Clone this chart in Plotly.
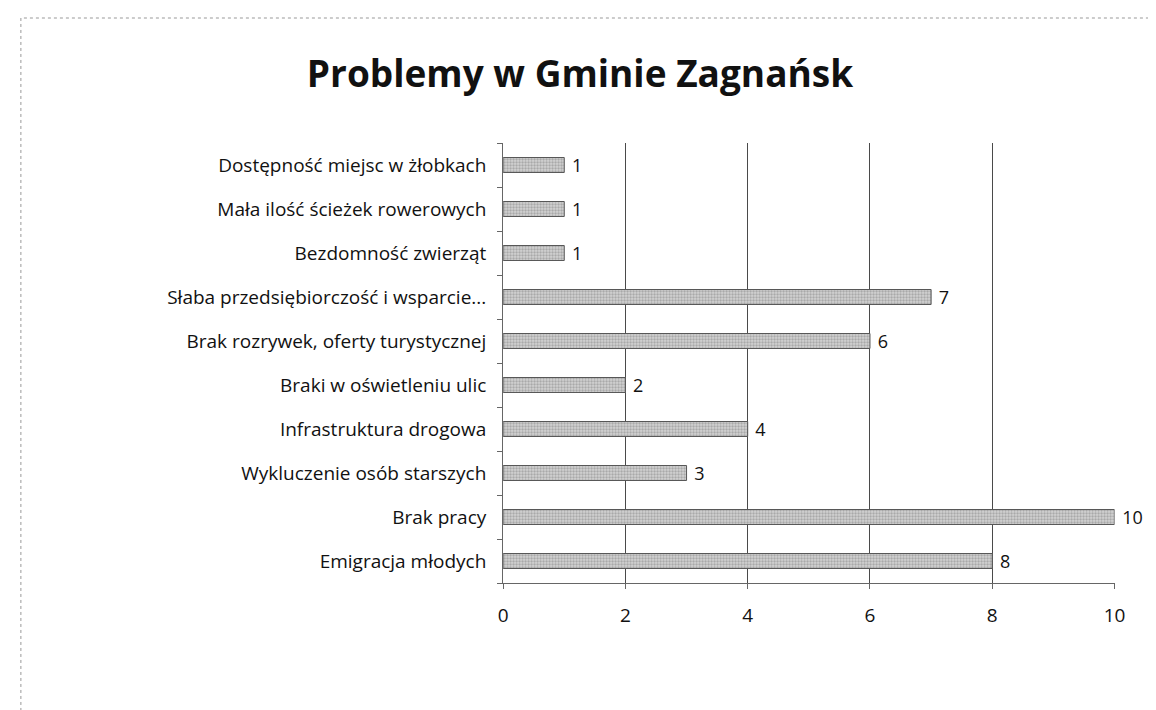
import plotly.graph_objects as go

categories = [
    "Emigracja młodych",
    "Brak pracy",
    "Wykluczenie osób starszych",
    "Infrastruktura drogowa",
    "Braki w oświetleniu ulic",
    "Brak rozrywek, oferty turystycznej",
    "Słaba przedsiębiorczość i wsparcie...",
    "Bezdomność zwierząt",
    "Mała ilość ścieżek rowerowych",
    "Dostępność miejsc w żłobkach",
]
values = [8, 10, 3, 4, 2, 6, 7, 1, 1, 1]
x_ticks = [0, 2, 4, 6, 8, 10]
title_text = "Problemy w Gminie Zagnańsk"

W, H = 1156, 710
font_family = "'Open Sans', Lato, sans-serif"

fig = go.Figure()
fig.add_trace(go.Bar(
    x=values,
    y=categories,
    orientation="h",
    width=0.34,
    marker=dict(
        color="#c8c8c8",
        line=dict(color="#555", width=1),
        pattern=dict(shape=".", fgcolor="#777", bgcolor="#d4d4d4", size=3, solidity=0.45),
    ),
    text=["\u00a0" + str(v) for v in values],
    textposition="outside",
    constraintext="none",
    textfont=dict(size=18, color="#111", family=font_family),
    outsidetextfont=dict(size=18, color="#111", family=font_family),
    cliponaxis=False,
    showlegend=False,
))

fig.update_layout(
    width=W, height=H,
    paper_bgcolor="white",
    plot_bgcolor="white",
    margin=dict(l=0, r=0, t=0, b=0),
    title=dict(
        text="<b>" + title_text + "</b>",
        x=572 / W, xanchor="center",
        y=1 - 66 / H, yanchor="middle",
        font=dict(size=37, color="#111", family=font_family),
    ),
    xaxis=dict(
        domain=[497 / W, 1117 / W],
        range=[0, 10],
        tickvals=x_ticks,
        ticktext=[str(t) for t in x_ticks],
        showgrid=True,
        gridcolor="#4a4a4a",
        gridwidth=1,
        showline=True,
        linecolor="#666",
        linewidth=1,
        ticks="outside",
        ticklen=5,
        tickcolor="#666",
        tickfont=dict(size=19, color="#111", family=font_family),
        ticklabelstandoff=10,
        zeroline=False,
        anchor="y",
    ),
    yaxis=dict(
        domain=[(H - 575) / H, (H - 135) / H],
        range=[-0.5, 9.5],
        showgrid=False,
        showline=True,
        linecolor="#666",
        linewidth=1,
        ticks="outside",
        tickson="boundaries",
        ticklen=5,
        tickcolor="#666",
        tickfont=dict(size=19, color="#111", family=font_family),
        ticklabelstandoff=12,
        anchor="x",
    ),
    shapes=[
        dict(type="rect", xref="paper", yref="paper",
             x0=8 / W, x1=1.02, y0=-0.02, y1=1 - 10 / H,
             line=dict(color="#999", width=1, dash="dot")),
    ],
)

fig.write_html("out.html")
